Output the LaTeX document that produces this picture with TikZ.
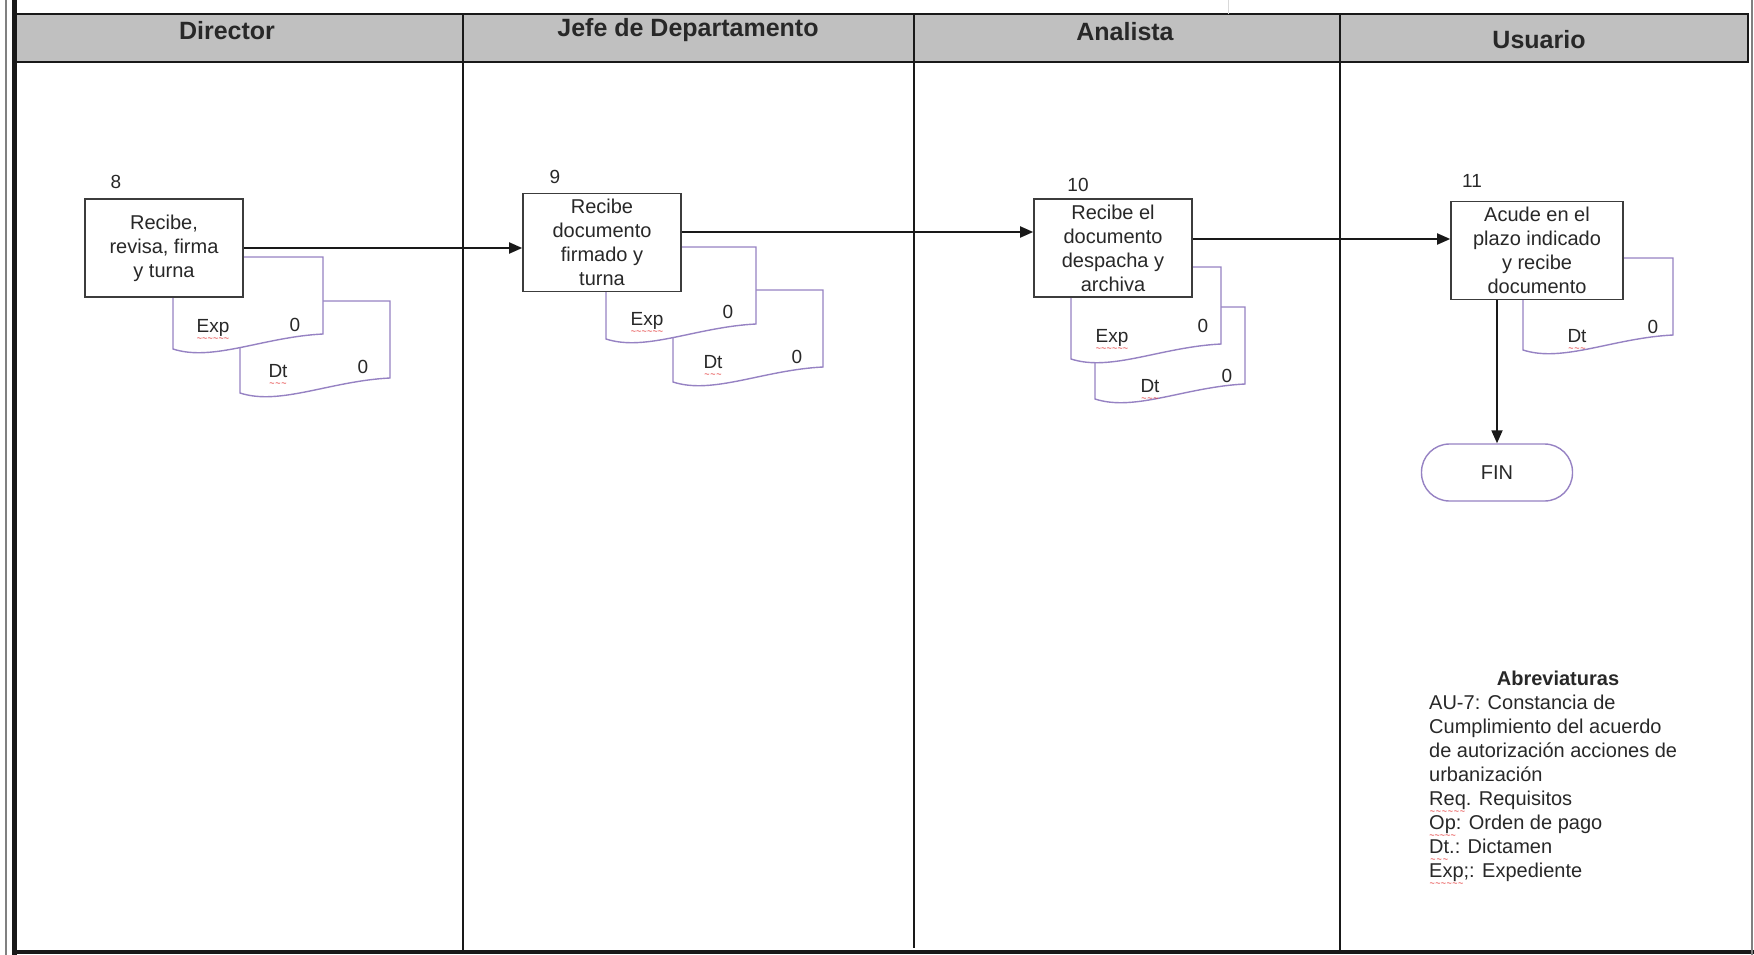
\documentclass[tikz,border=0pt]{standalone}
\usepackage{fontspec}
\setmainfont{Liberation Sans}
\usepackage{tikz}
\usetikzlibrary{arrows.meta,positioning}
\usepackage{xcolor}
\definecolor{LaneGray}{RGB}{192,192,192}
\definecolor{FrameLine}{RGB}{25,25,25}
\definecolor{BoxLine}{RGB}{60,60,60}
\definecolor{DocLine}{RGB}{150,130,195}
\definecolor{InkGray}{RGB}{40,40,40}
\definecolor{SpellRed}{RGB}{225,40,40}
\newsavebox\spellbox
\newcommand\spellmark[1]{\sbox\spellbox{#1}\rlap{\raisebox{-9pt}[0pt][0pt]{\color{SpellRed}\fontsize{9}{9}\selectfont
  \hbox to \wd\spellbox{\xleaders\hbox{\textasciitilde}\hfill}}}#1}

\begin{document}
\begin{tikzpicture}[x=1pt,y=-1pt,
  carril/.style={font=\bfseries\fontsize{25}{30}\selectfont,text=InkGray},
  paso/.style={draw=BoxLine,fill=white,line width=1.6pt,minimum width=158pt,
               minimum height=98pt,inner sep=0pt,align=center,text=InkGray,
               font=\fontsize{20}{24}\selectfont},
  numero/.style={font=\fontsize{19}{22}\selectfont,text=InkGray,anchor=base},
  hojatxt/.style={font=\fontsize{19}{22}\selectfont,text=InkGray,anchor=base},
  flecha/.style={draw=FrameLine,line width=1.8pt,-{Triangle[length=13pt,width=11pt]}},
  marco/.style={draw=FrameLine,line width=2.8pt},
  terminal/.style={draw=DocLine,fill=white,line width=1.4pt,rounded corners=28pt,
                   minimum width=151pt,minimum height=57pt,text=InkGray,
                   font=\fontsize{20}{24}\selectfont},
  hoja/.pic={\draw[draw=DocLine,fill=white,line width=1.4pt]
             (0,0) -- (150,0) -- (150,77) .. controls (90,80) and (40,105) .. (0,92) -- cycle;},
]
\useasboundingbox (0,0) rectangle (1754,955);
% lanes
\fill[LaneGray] (14,14) rectangle (1748,62);
\draw[marco] (14,14) -- (1748,14) -- (1748,62) -- (14,62);
\draw[marco] (463,14) -- (463,953);
\draw[marco] (914,14) -- (914,948);
\draw[marco] (1340,14) -- (1340,953);
\draw[marco,line width=5pt] (14,0) -- (14,955);
\draw[marco,line width=4pt] (14,952) -- (1754,952);
\draw[gray,line width=1.5pt] (6,0) -- (6,955);
\draw[gray,line width=1.2pt] (1752,0) -- (1752,955);
\draw[gray!30,line width=1pt] (1228,0) -- (1228,14);
\node[carril] (director) at (227,31) {Director};
\node[carril] (jefe) at (688,30) {Jefe de Departamento};
\node[carril] (analista) at (1125,32) {Analista};
\node[carril] (usuario) at (1539,40) {Usuario};

% step 8
\pic at (240,301) {hoja};
\pic at (173,257) {hoja};
\node[paso] (p8) at (164,248) {Recibe,\\revisa, firma\\y turna};
\node[numero] (n8) at (116,188) {8};
\node[hojatxt] (exp8) at (213,332) {\spellmark{Exp}};
\node[hojatxt] (cexp8) at (295,331) {0};
\node[hojatxt] (dt8) at (278,377) {\spellmark{Dt}};
\node[hojatxt] (cdt8) at (363,373) {0};

% step 9
\pic at (673,290) {hoja};
\pic at (606,247) {hoja};
\node[paso] (p9) at (602,242.5) {Recibe\\documento\\firmado y\\turna};
\node[numero] (n9) at (555,183) {9};
\node[hojatxt] (exp9) at (647,325) {\spellmark{Exp}};
\node[hojatxt] (cexp9) at (728,318) {0};
\node[hojatxt] (dt9) at (713,368) {\spellmark{Dt}};
\node[hojatxt] (cdt9) at (797,363) {0};

% step 10
\pic at (1095,307) {hoja};
\pic at (1071,267) {hoja};
\node[paso] (p10) at (1113,248) {Recibe el\\documento\\despacha y\\archiva};
\node[numero] (n10) at (1078,192) {10};
\node[hojatxt] (exp10) at (1112,342) {\spellmark{Exp}};
\node[hojatxt] (cexp10) at (1203,332) {0};
\node[hojatxt] (dt10) at (1150,392) {\spellmark{Dt}};
\node[hojatxt] (cdt10) at (1227,382) {0};

% step 11
\pic at (1523,258) {hoja};
\node[paso,minimum width=172pt] (p11) at (1537,250.5) {Acude en el\\plazo indicado\\y recibe\\documento};
\node[numero] (n11) at (1472,187) {11};
\node[hojatxt] (dt11) at (1577,342) {\spellmark{Dt}};
\node[hojatxt] (cdt11) at (1653,333) {0};
\node[terminal] (fin) at (1497,472.5) {FIN};

\draw[flecha] (p8.east) -- (p8.east -| p9.west);
\draw[flecha] ([yshift=10.5pt]p9.east) -- ([yshift=10.5pt]p9.east -| p10.west);
\draw[flecha] ([yshift=9pt]p10.east) -- ([yshift=9pt]p10.east -| p11.west);
\draw[flecha] ([xshift=-40pt]p11.south) -- (fin.north);

% abbreviations
\node[font=\bfseries\fontsize{20}{24}\selectfont,text=InkGray] (abrev) at (1558,678) {Abreviaturas};
\node[anchor=base west,align=left,inner sep=0pt,text=InkGray,font=\fontsize{20}{24}\selectfont]
  (abrevtxt) at (1429,877) {AU-7: Constancia de\\Cumplimiento del acuerdo\\de autorización acciones de\\urbanización\\\spellmark{Req}. Requisitos\\\spellmark{Op}: Orden de pago\\\spellmark{Dt}.: Dictamen\\\spellmark{Exp};: Expediente};
\end{tikzpicture}
\end{document}
